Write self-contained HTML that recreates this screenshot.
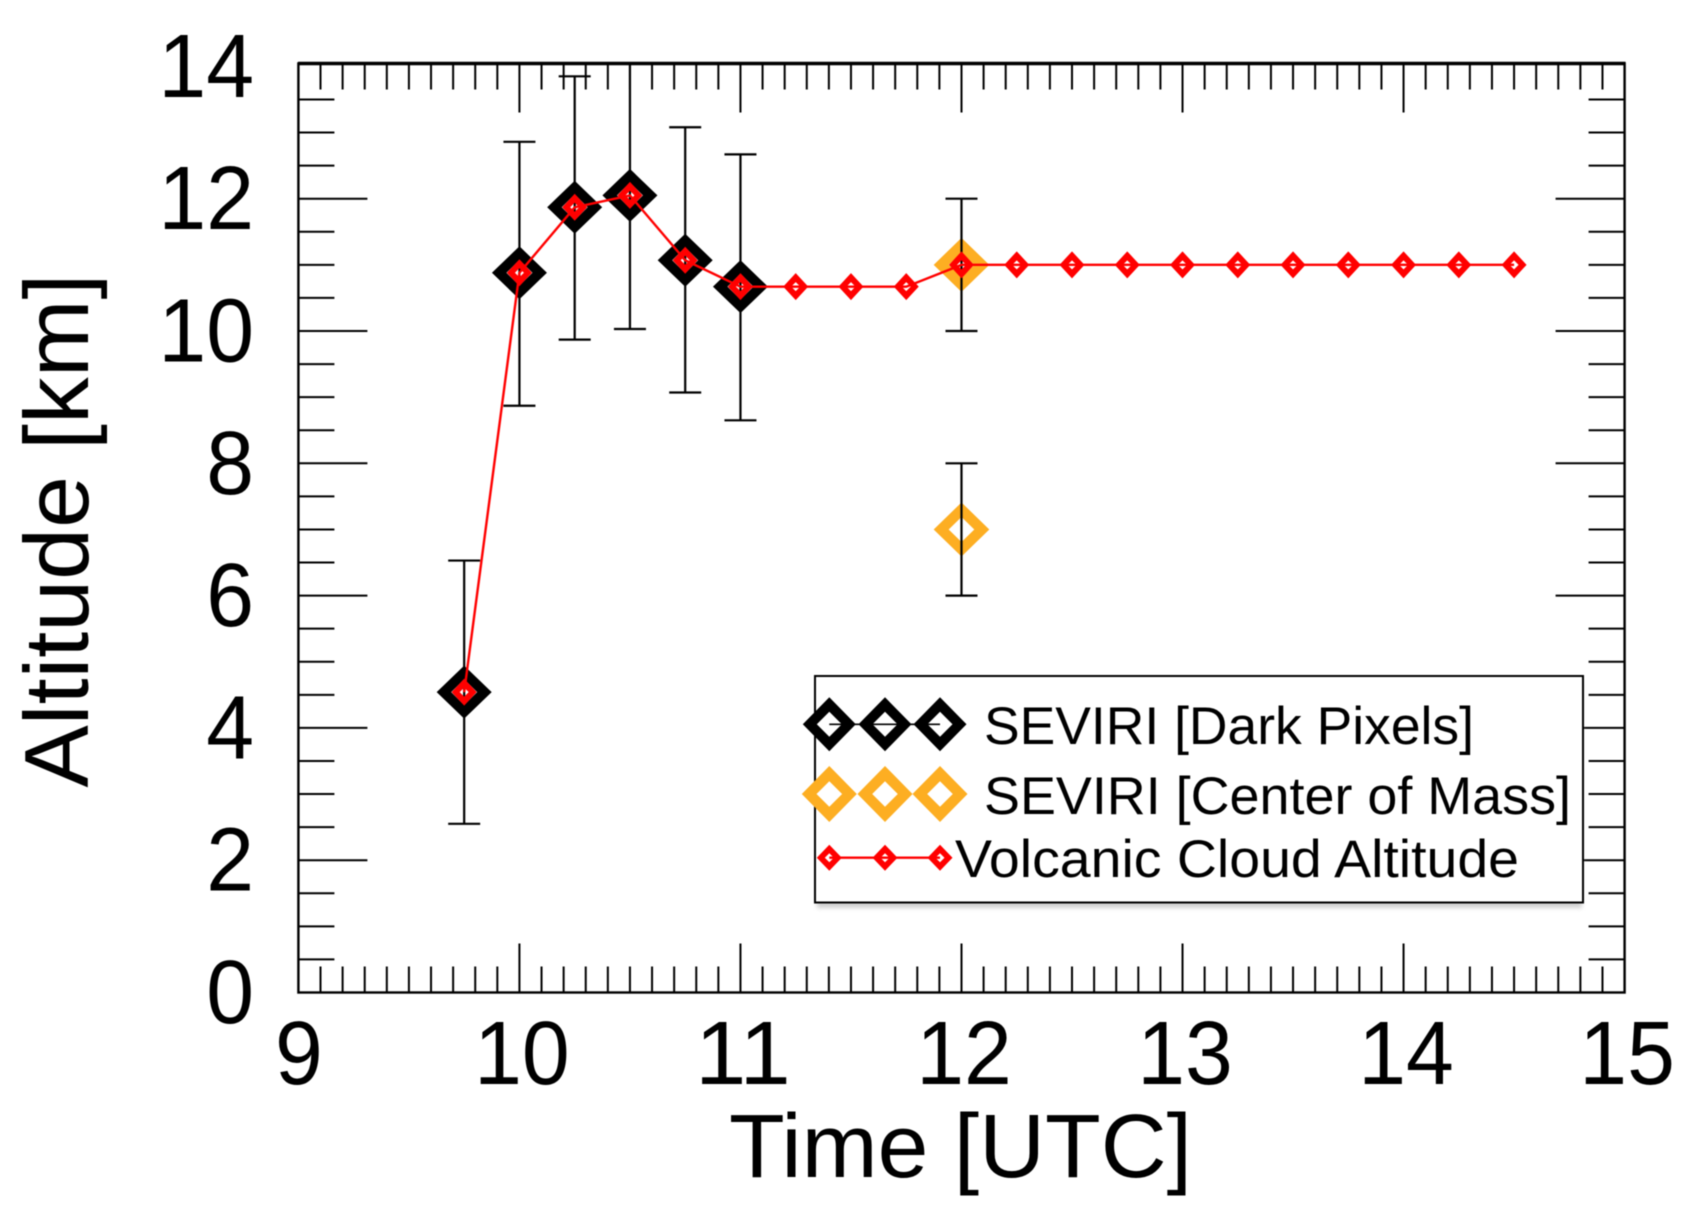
<!DOCTYPE html>
<html>
<head>
<meta charset="utf-8">
<title>Volcanic Cloud Altitude</title>
<style>
html,body{margin:0;padding:0;background:#fff;width:1686px;height:1217px;overflow:hidden}
svg{display:block;filter:blur(0.5px)}
text{font-family:"Liberation Sans",Arial,sans-serif;fill:#000}
</style>
</head>
<body>
<svg id="chart" xmlns="http://www.w3.org/2000/svg" width="1686" height="1217" viewBox="0 0 1686 1217">
  <defs>
    <filter id="legendBlur" x="-5%" y="-5%" width="110%" height="115%"><feGaussianBlur stdDeviation="2"/></filter>
    <clipPath id="plotClip"><rect x="298" y="63" width="1328" height="930"/></clipPath>
  </defs>
  <rect width="1686" height="1217" fill="#fff"/>
  <g id="ticks"></g>
  <g id="tickLabels"></g>
  <g id="marks" clip-path="url(#plotClip)"></g>
  <rect id="frame" x="298.4" y="63.5" width="1326.2" height="929" fill="none" stroke="#000" stroke-width="2.4"/>
  <line x1="298" x2="1625.5" y1="63.5" y2="63.5" stroke="#000" stroke-width="3.4"/>
  <text x="729" y="1177" font-size="90" textLength="463" lengthAdjust="spacingAndGlyphs">Time [UTC]</text>
  <text transform="translate(88,787.5) rotate(-90)" x="0" y="0" font-size="91" textLength="514" lengthAdjust="spacingAndGlyphs">Altitude [km]</text>

  <g id="legend">
    <rect x="817" y="682" width="765" height="226" fill="#d0d0d0" filter="url(#legendBlur)"/>
    <rect x="815" y="676" width="768" height="226.5" fill="#fff" stroke="#000" stroke-width="2"/>
    <g id="legendMarks"></g>
    <text x="984" y="744" font-size="53" textLength="490" lengthAdjust="spacingAndGlyphs">SEVIRI [Dark Pixels]</text>
    <text x="984" y="814" font-size="53" textLength="587" lengthAdjust="spacingAndGlyphs">SEVIRI [Center of Mass]</text>
    <text x="955" y="877" font-size="53" textLength="564" lengthAdjust="spacingAndGlyphs">Volcanic Cloud Altitude</text>
  </g>
</svg>
<script>
// ---- chart data ----
const xTickValues = [9, 10, 11, 12, 13, 14, 15];
const yTickValues = [0, 2, 4, 6, 8, 10, 12, 14];

const darkTimes = [9.75, 10, 10.25, 10.5, 10.75, 11];
const darkAltitude = [4.54, 10.88, 11.87, 12.05, 11.07, 10.67];
const darkErrorLow = [2.55, 8.87, 9.87, 10.03, 9.07, 8.65];
const darkErrorHigh = [6.53, 12.86, 13.85, 14.05, 13.08, 12.67];

const massTimes = [12, 12];
const massAltitude = [11, 7];
const massErrorLow = [10, 6];
const massErrorHigh = [12, 8];

const cloudTimes = [9.75, 10, 10.25, 10.5, 10.75, 11, 11.25, 11.5, 11.75, 12, 12.25, 12.5, 12.75, 13, 13.25, 13.5, 13.75, 14, 14.25, 14.5];
const cloudAltitude = [4.54, 10.88, 11.87, 12.05, 11.07, 10.67, 10.67, 10.67, 10.67, 11, 11, 11, 11, 11, 11, 11, 11, 11, 11, 11];

// ---- axis functions ----
const xLeft = 298.4, xUnit = 221.03;
const yBottom = 992.5, yUnit = 66.15;
const xScale = function (t) { return xLeft + (t - xTickValues[0]) * xUnit; };
const yScale = function (v) { return yBottom - v * yUnit; };

const SVG_NS = 'http://www.w3.org/2000/svg';
function make(tag, attrs, parent) {
  const el = document.createElementNS(SVG_NS, tag);
  for (const k in attrs) el.setAttribute(k, attrs[k]);
  parent.appendChild(el);
  return el;
}
function diamondPath(cx, cy, rx, ry, hx, hy) {
  return 'M' + (cx - rx) + ' ' + cy + 'L' + cx + ' ' + (cy - ry) + 'L' + (cx + rx) + ' ' + cy + 'L' + cx + ' ' + (cy + ry) + 'Z' +
         'M' + (cx - hx) + ' ' + cy + 'L' + cx + ' ' + (cy - hy) + 'L' + (cx + hx) + ' ' + cy + 'L' + cx + ' ' + (cy + hy) + 'Z';
}

const tickGroup = document.getElementById('ticks');
const labelGroup = document.getElementById('tickLabels');
const marks = document.getElementById('marks');
const legendMarks = document.getElementById('legendMarks');

const xRight = xScale(xTickValues[xTickValues.length - 1]);
const yTop = 63.5;
const tickColor = '#000';
const digitWidth = 47.8;

// ---- x ticks (top and bottom) ----
for (let i = 0; i < xTickValues.length - 1; i++) {
  for (let m = 0; m < 10; m++) {
    const px = xScale(xTickValues[i] + m / 10);
    const isMajor = m === 0;
    if (i === 0 && isMajor) continue;
    const len = isMajor ? 49 : 26;
    const b = make('line', {x1: px, x2: px, y1: yBottom, y2: yBottom - len, stroke: tickColor, 'stroke-width': 2}, tickGroup);
    
    
    const t = make('line', {x1: px, x2: px, y1: yTop, y2: yTop + len, stroke: tickColor, 'stroke-width': 2}, tickGroup);
    
    
  }
}

// ---- y ticks (left and right) ----
for (let i = 0; i < yTickValues.length - 1; i++) {
  for (let m = 0; m < 4; m++) {
    const py = yScale(yTickValues[i] + m * 0.5);
    const isMajor = m === 0;
    if (i === 0 && isMajor) continue;
    const len = isMajor ? 69 : 36;
    const l = make('line', {x1: xLeft, x2: xLeft + len, y1: py, y2: py, stroke: tickColor, 'stroke-width': 2}, tickGroup);
    
    
    const r = make('line', {x1: xRight, x2: xRight - len, y1: py, y2: py, stroke: tickColor, 'stroke-width': 2}, tickGroup);
    
    
  }
}

// ---- tick labels ----
xTickValues.forEach(function (v) {
  const s = String(v);
  const shift = s.length > 1 ? 2.5 : 0.5;
  const el = make('text', {x: xScale(v) + shift, y: 1084, 'font-size': 90, 'text-anchor': 'middle', textLength: s.length * digitWidth, lengthAdjust: 'spacingAndGlyphs'}, labelGroup);
  el.textContent = s;
  
  
});
yTickValues.forEach(function (v) {
  const s = String(v);
  const el = make('text', {x: 254, y: yScale(v) + 30.5, 'font-size': 90, 'text-anchor': 'end', textLength: s.length * digitWidth, lengthAdjust: 'spacingAndGlyphs'}, labelGroup);
  el.textContent = s;
  
  
});

// ---- error bars ----
function drawError(t, lo, hi) {
  const px = xScale(t), yLo = yScale(lo), yHi = yScale(hi);
  const stem = make('line', {x1: px, x2: px, y1: yLo, y2: yHi, stroke: '#000', 'stroke-width': 2.2}, marks);
  
  
  const capLo = make('line', {x1: px - 16, x2: px + 16, y1: yLo, y2: yLo, stroke: '#000', 'stroke-width': 2.2}, marks);
  
  
  const capHi = make('line', {x1: px - 16, x2: px + 16, y1: yHi, y2: yHi, stroke: '#000', 'stroke-width': 2.2}, marks);
  
  
}

// ---- center of mass markers (under their error bars) ----
massTimes.forEach(function (t, i) {
  const el = make('path', {d: diamondPath(xScale(t), yScale(massAltitude[i]), 27.8, 27, 12.8, 12.5), fill: '#fdae22', 'fill-rule': 'evenodd'}, marks);
  
  
});
darkTimes.forEach(function (t, i) { drawError(t, darkErrorLow[i], darkErrorHigh[i]); });
massTimes.forEach(function (t, i) { drawError(t, massErrorLow[i], massErrorHigh[i]); });

// ---- dark pixel markers ----
darkTimes.forEach(function (t, i) {
  const el = make('path', {d: diamondPath(xScale(t), yScale(darkAltitude[i]), 27.5, 26.5, 13, 13), fill: '#000', 'fill-rule': 'evenodd'}, marks);
  
  
});

// ---- cloud altitude line + markers ----
const cloudLine = make('polyline', {
  points: cloudTimes.map(function (t, i) { return xScale(t) + ',' + yScale(cloudAltitude[i]); }).join(' '),
  fill: 'none', stroke: '#ff0000', 'stroke-width': 2.4
}, marks);


cloudTimes.forEach(function (t, i) {
  const el = make('path', {d: diamondPath(xScale(t), yScale(cloudAltitude[i]), 12.5, 13.5, 4.5, 4.5), fill: '#ff0000', 'fill-rule': 'evenodd'}, marks);
  
  
});

// ---- legend symbols ----
const legendSlots = [829.3, 885, 940];
const rowDark = 724.3, rowMass = 794, rowCloud = 857.7;

const legendDarkLine = make('line', {x1: legendSlots[0], x2: legendSlots[2], y1: rowDark, y2: rowDark, stroke: '#000', 'stroke-width': 1.6}, legendMarks);


const legendCloudLine = make('line', {x1: legendSlots[0], x2: legendSlots[2], y1: rowCloud, y2: rowCloud, stroke: '#ff0000', 'stroke-width': 2.4}, legendMarks);



legendSlots.forEach(function (px) {
  const d = make('path', {d: diamondPath(px, rowDark, 26.5, 27, 12.5, 12.5), fill: '#000', 'fill-rule': 'evenodd'}, legendMarks);
  
  
  const o = make('path', {d: diamondPath(px, rowMass, 27.5, 28, 12.8, 12.8), fill: '#fdae22', 'fill-rule': 'evenodd'}, legendMarks);
  
  
  const c = make('path', {d: diamondPath(px, rowCloud, 12.5, 13, 4.5, 4.5), fill: '#ff0000', 'fill-rule': 'evenodd'}, legendMarks);
  
  
});
</script>
</body>
</html>
